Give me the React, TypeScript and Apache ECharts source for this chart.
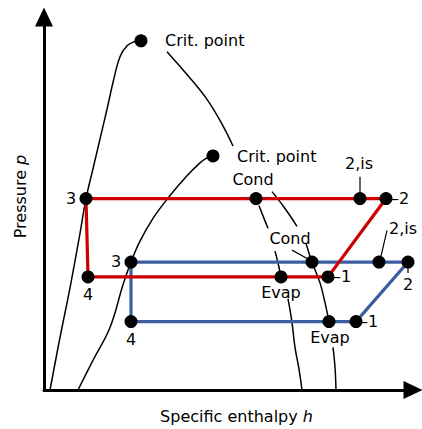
import React, { useEffect, useRef } from "react";
import * as echarts from "echarts";

type P = [number, number];

// Saturation domes (h, p in arbitrary units)
const outerDomeLeft: P[] = [
  [6, 0], [16, 53], [26, 103], [36, 158], [42, 193], [49, 223], [56, 253],
  [63, 283], [69, 310], [76, 336], [83, 347], [90, 351], [97, 352],
];
const outerDomeRight: P[][] = [
  [[123, 341], [143, 318], [163, 293], [178, 268], [189, 246]],
  [[215, 186], [220, 173], [224, 163]],
  [[231, 140], [234, 128], [237, 114]],
  [[244, 92], [248, 68], [251, 43], [255, 21], [258, 0]],
];
const innerDomeLeft: P[] = [
  [34, 0], [49, 30], [66, 63], [79, 106], [87, 129], [96, 150], [109, 173],
  [126, 196], [143, 216], [156, 229], [163, 234], [169, 236],
];
const innerDomeRight: P[][] = [
  [[228, 200], [241, 183], [253, 165]],
  [[262, 148], [268, 129], [276, 108], [281, 88], [285, 69]],
  [[289, 43], [291, 23], [292, 0]],
];
const critPoints: P[] = [[97, 352], [169, 236]];

// Cycle state points
const stateNames = ["3", "Cond", "2,is", "2", "4", "Evap", "1"];
const redH = [42, 212, 316, 342, 44, 237, 284];
const redP = [193, 193, 193, 193, 114, 114, 114];
const blueH = [87, 268, 335, 364, 87, 285, 312];
const blueP = [129, 129, 129, 129, 69, 69, 69];
const cyclePath = ["3", "2", "1", "4", "3"];

const RED = "#cc0000";
const BLUE = "#3b5ea3";
const FONT = "DejaVu Sans";

type LabelCfg = { text: string; offset: [number, number]; align?: string };
const labelCfg: Record<string, LabelCfg> = {
  "red:3": { text: "3", offset: [-15, 0] },
  "red:Cond": { text: "Cond", offset: [-3, -19] },
  "red:2,is": { text: "2,is", offset: [-1, -35] },
  "red:2": { text: "\u20132", offset: [5, 0], align: "left" },
  "red:4": { text: "4", offset: [0, 18] },
  "red:Evap": { text: "Evap", offset: [0, 16] },
  "red:1": { text: "\u20131", offset: [5, 0], align: "left" },
  "blue:3": { text: "3", offset: [-15, -1] },
  "blue:Cond": { text: "Cond", offset: [-22, -24] },
  "blue:2,is": { text: "2,is", offset: [24, -34] },
  "blue:2": { text: "2", offset: [0, 22] },
  "blue:4": { text: "4", offset: [0, 18] },
  "blue:Evap": { text: "Evap", offset: [1, 16] },
  "blue:1": { text: "\u20131", offset: [4, 0], align: "left" },
};

// leader lines: offsets from the state point (in data units)
const leaders: { key: string; from: P; to: P }[] = [
  { key: "red:2,is", from: [0, 5], to: [0, 22] },
  { key: "blue:2,is", from: [2, 6], to: [8, 32] },
  { key: "blue:Cond", from: [-4, 3], to: [-20, 12] },
  { key: "blue:2", from: [0, -6], to: [0, -11] },
];

function cycle(hs: number[], ps: number[]) {
  const map: Record<string, P> = {};
  stateNames.forEach((n, i) => (map[n] = [hs[i], ps[i]]));
  return map;
}

export default function App() {
  const ref = useRef<HTMLDivElement>(null);
  useEffect(() => {
    if (!ref.current) return;
    document.body.style.margin = "0";
    const chart = echarts.init(ref.current, undefined, { renderer: "svg" });
    const red = cycle(redH, redP);
    const blue = cycle(blueH, blueP);
    const pts: Record<string, Record<string, P>> = { red, blue };

    const domeSeries = [outerDomeLeft, ...outerDomeRight, innerDomeLeft, ...innerDomeRight].map((seg) => ({
      type: "line",
      data: seg,
      smooth: 0.4,
      symbol: "none",
      lineStyle: { color: "#000", width: 1.5 },
      z: 2,
      silent: true,
    }));

    const cycleSeries = (["blue", "red"] as const).map((c) => ({
      type: "line",
      data: cyclePath.map((n) => pts[c][n]),
      symbol: "none",
      lineStyle: { color: c === "red" ? RED : BLUE, width: 3.2, join: "miter" },
      z: 3,
      silent: true,
    }));

    const leaderSeries = leaders.map((l) => {
      const [c, n] = l.key.split(":");
      const p = pts[c][n];
      return {
        type: "line",
        data: [
          [p[0] + l.from[0], p[1] + l.from[1]],
          [p[0] + l.to[0], p[1] + l.to[1]],
        ],
        symbol: "none",
        lineStyle: { color: "#000", width: 1.2 },
        z: 4,
        silent: true,
      };
    });

    const lbl = (text: string, offset: [number, number], align: string) => ({
      show: true,
      formatter: text,
      position: "inside",
      align,
      verticalAlign: "middle",
      offset,
      color: "#000",
      fontFamily: FONT,
      fontSize: 16,
      textBorderWidth: 0,
    });

    const pointData: any[] = [];
    (["red", "blue"] as const).forEach((c) => {
      stateNames.forEach((n) => {
        const cfg = labelCfg[`${c}:${n}`];
        pointData.push({ value: pts[c][n], label: lbl(cfg.text, cfg.offset, cfg.align || "center") });
      });
    });
    critPoints.forEach((p, i) => {
      pointData.push({ value: p, label: lbl("Crit. point", [24, i === 0 ? 0 : 1], "left") });
    });

    const axisCommon = {
      type: "value",
      axisTick: { show: false },
      axisLabel: { show: false },
      splitLine: { show: false },
      axisLine: {
        show: true,
        onZero: false,
        symbol: ["none", "triangle"],
        symbolSize: [18, 19],
        lineStyle: { color: "#000", width: 3 },
      },
      nameLocation: "middle",
    };
    const nameStyle = {
      fontFamily: FONT,
      fontSize: 16,
      color: "#000",
      rich: { i: { fontFamily: FONT, fontSize: 16, fontStyle: "italic", color: "#000" } },
    };

    chart.setOption({
      animation: false,
      grid: { left: 44, right: 9, top: 17, bottom: 36, containLabel: false },
      xAxis: {
        ...axisCommon,
        min: 0,
        max: 369,
        name: "Specific enthalpy {i|h}",
        nameGap: 18,
        nameTextStyle: { ...nameStyle, padding: [0, 0, 0, 16] },
      },
      yAxis: {
        ...axisCommon,
        min: 0,
        max: 376,
        name: "Pressure {i|p}",
        nameGap: 16,
        nameRotate: 90,
        nameTextStyle: { ...nameStyle, padding: [0, 0, 0, 14] },
      },
      series: [
        ...domeSeries,
        ...cycleSeries,
        ...leaderSeries,
        {
          type: "scatter",
          data: pointData,
          symbol: "circle",
          symbolSize: 13,
          itemStyle: { color: "#000", opacity: 1 },
          z: 5,
          silent: true,
        },
      ],
    });
    return () => chart.dispose();
  }, []);
  return (
    <div
      ref={ref}
      style={{ position: "fixed", left: 0, top: 0, width: 422, height: 429, background: "#fff" }}
    />
  );
}
